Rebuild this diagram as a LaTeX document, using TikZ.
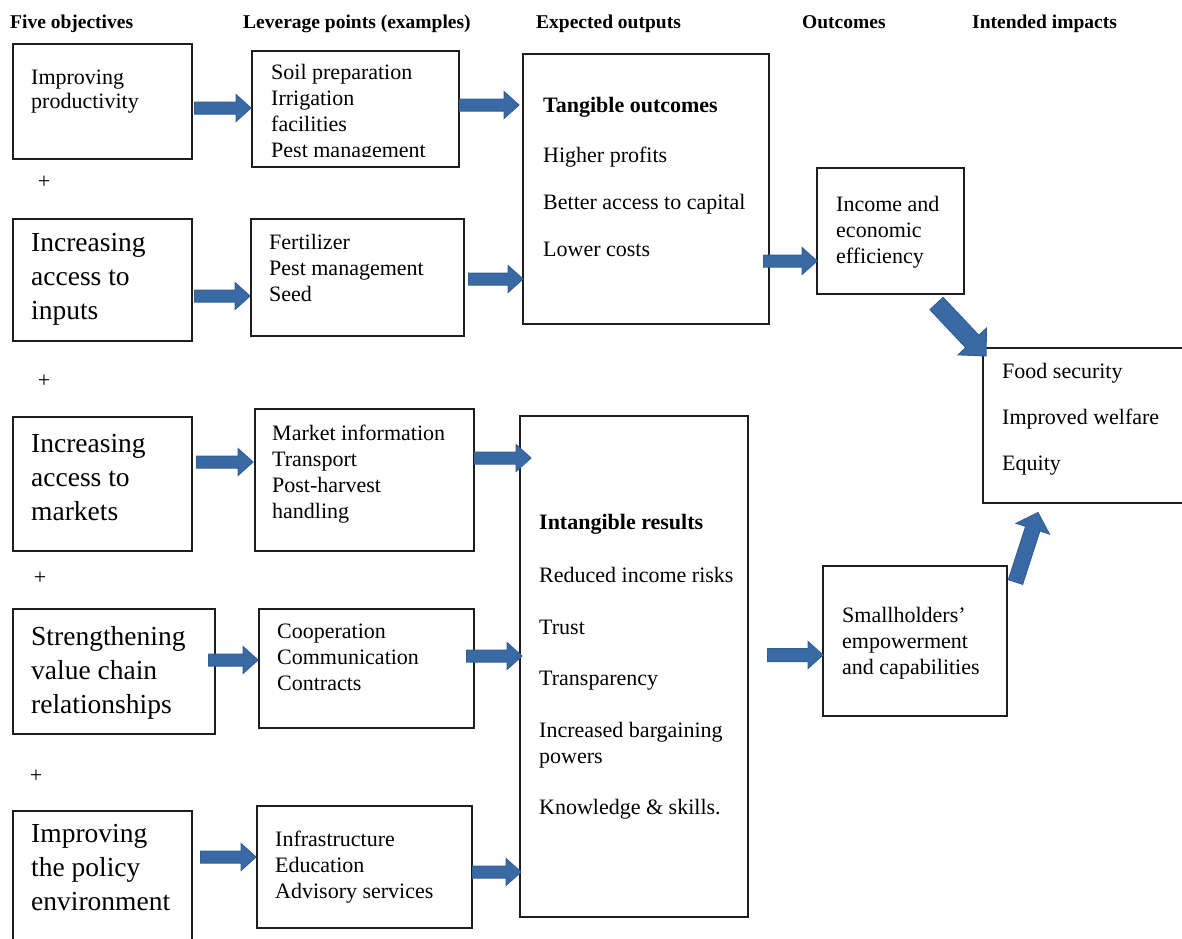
\documentclass[tikz,border=0pt]{standalone}
\usepackage{fontspec}
\setmainfont{Liberation Serif}
\usetikzlibrary{calc}

\definecolor{arrowmid}{HTML}{5A8BCB}
\definecolor{arrowside}{HTML}{3A6AA6}
\definecolor{arrowedge}{HTML}{345F93}
\definecolor{boxline}{HTML}{1E1E1E}

\newcommand\sml{\fontsize{22}{26}\selectfont}
\newcommand\lrg{\fontsize{27.5}{34}\selectfont}
\newcommand\hdr{\fontsize{19.5}{23}\selectfont\bfseries}
\newcommand\tstrut{\rule{0pt}{0.8em}}

% Block arrow from #2 to #3: shaft half-width #4, head half-width #5, head length #1
\newcommand\blockarrow[5][15]{%
  \coordinate (bas) at (#2);
  \coordinate (bae) at (#3);
  \coordinate (bah) at ($(bae)!#1pt!(bas)$);
  \pgfmathanglebetweenpoints{\pgfpointanchor{bas}{center}}{\pgfpointanchor{bae}{center}}%
  \let\baangle\pgfmathresult
  \path[flowarrow, shading angle=\baangle]
    ($(bas)!#4pt!90:(bae)$) -- ($(bah)!#4pt!-90:(bas)$) --
    ($(bah)!#5pt!-90:(bas)$) -- (bae) --
    ($(bah)!#5pt!90:(bas)$) -- ($(bah)!#4pt!90:(bas)$) --
    ($(bas)!#4pt!-90:(bae)$) -- cycle;
}

\begin{document}
\begin{tikzpicture}[x=1pt,y=-1pt,
  box/.style={draw=boxline, line width=1.5pt, rectangle, inner sep=0pt, anchor=north west},
  txt/.style={anchor=north west, inner sep=0pt, align=left, font=\sml},
  bigtxt/.style={txt, font=\lrg},
  head/.style={anchor=base west, inner sep=0pt, font=\hdr},
  plus/.style={inner sep=0pt, font=\sml},
  flowarrow/.style={top color=arrowside, middle color=arrowmid, bottom color=arrowside,
    draw=arrowedge, line width=1pt, line join=miter}]

\clip (0,0) rectangle (1182,938);

% column headings
\node[head] (h1) at (10,28) {Five objectives};
\node[head] (h2) at (243,28) {Leverage points (examples)};
\node[head] (h3) at (536,28) {Expected outputs};
\node[head] (h4) at (802,28) {Outcomes};
\node[head] (h5) at (972,28) {Intended impacts};

% objectives
\node[box, minimum width=179pt, minimum height=115pt] (a1) at (12,43) {};
\node[txt] (a1t) at (31,67) {\tstrut Improving\\[-2pt]productivity};
\node[plus] (p1) at (44,182) {+};

\node[box, minimum width=179pt, minimum height=122pt] (a2) at (12,218) {};
\node[bigtxt] (a2t) at (31,229) {\tstrut Increasing\\access to\\inputs};
\node[plus] (p2) at (44,381) {+};

\node[box, minimum width=179pt, minimum height=134pt] (a3) at (12,416) {};
\node[bigtxt] (a3t) at (31,430) {\tstrut Increasing\\access to\\markets};
\node[plus] (p3) at (40,578) {+};

\node[box, minimum width=202pt, minimum height=125pt] (a4) at (12,608) {};
\node[bigtxt] (a4t) at (31,623) {\tstrut Strengthening\\value chain\\relationships};
\node[plus] (p4) at (36,776) {+};

\node[box, minimum width=179pt, minimum height=150pt] (a5) at (12,810) {};
\node[bigtxt] (a5t) at (31,820) {\tstrut Improving\\the policy\\environment};

% leverage points
\node[box, minimum width=207pt, minimum height=116pt] (b1) at (251,50) {};
\begin{scope}
  \clip (b1.north west) rectangle ($(b1.south east)+(0,-11)$);
  \node[txt] (b1t) at (271,62) {\tstrut Soil preparation\\Irrigation\\facilities\\Pest management};
\end{scope}

\node[box, minimum width=213pt, minimum height=117pt] (b2) at (250,218) {};
\node[txt] (b2t) at (269,232) {\tstrut Fertilizer\\Pest management\\Seed};

\node[box, minimum width=219pt, minimum height=142pt] (b3) at (254,408) {};
\node[txt] (b3t) at (272,423) {\tstrut Market information\\Transport\\Post-harvest\\handling};

\node[box, minimum width=215pt, minimum height=119pt] (b4) at (258,608) {};
\node[txt] (b4t) at (277,621) {\tstrut Cooperation\\Communication\\Contracts};

\node[box, minimum width=215pt, minimum height=122pt] (b5) at (256,805) {};
\node[txt] (b5t) at (275,829) {\tstrut Infrastructure\\Education\\Advisory services};

% expected outputs
\node[box, minimum width=246pt, minimum height=270pt] (c1) at (522,53) {};
\node[txt] (c1t) at (543,95) {\tstrut\textbf{Tangible outcomes}\\[24pt]Higher profits\\[21pt]Better access to capital\\[21pt]Lower costs};

\node[box, minimum width=228pt, minimum height=501pt] (g) at (519,415) {};
\node[txt] (gt) at (539,512) {\tstrut\textbf{Intangible results}\\[27pt]Reduced income risks\\[26pt]Trust\\[25pt]Transparency\\[26pt]Increased bargaining\\powers\\[25pt]Knowledge \& skills.};

% outcomes
\node[box, minimum width=147pt, minimum height=126pt] (d) at (816,167) {};
\node[txt] (dt) at (836,194) {\tstrut Income and\\economic\\efficiency};

\node[box, minimum width=184pt, minimum height=150pt] (f) at (822,565) {};
\node[txt] (ft) at (842,605) {\tstrut Smallholders'\\empowerment\\and capabilities};

% intended impacts
\node[box, minimum width=218pt, minimum height=155pt] (e) at (982,347) {};
\node[txt] (et) at (1002,361) {\tstrut Food security\\[20pt]Improved welfare\\[20pt]Equity};

% connectors
\blockarrow{$(a1.north east)+(2,65)$}{$(b1.north west)+(0,58)$}{6}{13.5}
\blockarrow{$(b1.north east)+(0,55)$}{$(c1.north west)+(-3,52)$}{6}{13.5}
\blockarrow{$(a2.north east)+(2,78)$}{$(b2.north west)+(0,78)$}{6}{13.5}
\blockarrow{$(b2.north east)+(4,61)$}{$(c1.north west)+(1,226)$}{6}{13.5}
\blockarrow{$(c1.north east)+(-6,208)$}{$(d.north west)+(1,94)$}{6}{13.5}
\blockarrow{$(a3.north east)+(4,46)$}{$(b3.north west)+(-1,54)$}{6}{13.5}
\blockarrow{$(b3.north east)+(0,50)$}{$(g.north west)+(12,43)$}{6}{13.5}
\blockarrow{$(a4.north east)+(-7,52)$}{$(b4.north west)+(0,52)$}{6}{13.5}
\blockarrow{$(b4.north east)+(-8,48)$}{$(g.north west)+(3,241)$}{6}{13.5}
\blockarrow{$(a5.north east)+(8,47)$}{$(b5.north west)+(0,52)$}{6}{13.5}
\blockarrow{$(b5.north east)+(0,67)$}{$(g.north west)+(2,457)$}{6}{13.5}
\blockarrow{$(g.north east)+(19,240)$}{$(f.north west)+(1,90)$}{6.5}{13.5}
\blockarrow[20]{$(d.south east)+(-28,9)$}{$(e.north west)+(4,9)$}{9}{19.5}
\blockarrow[17]{$(f.north east)+(8,17)$}{$(e.south west)+(56,9)$}{7.5}{17.5}

\end{tikzpicture}
\end{document}
